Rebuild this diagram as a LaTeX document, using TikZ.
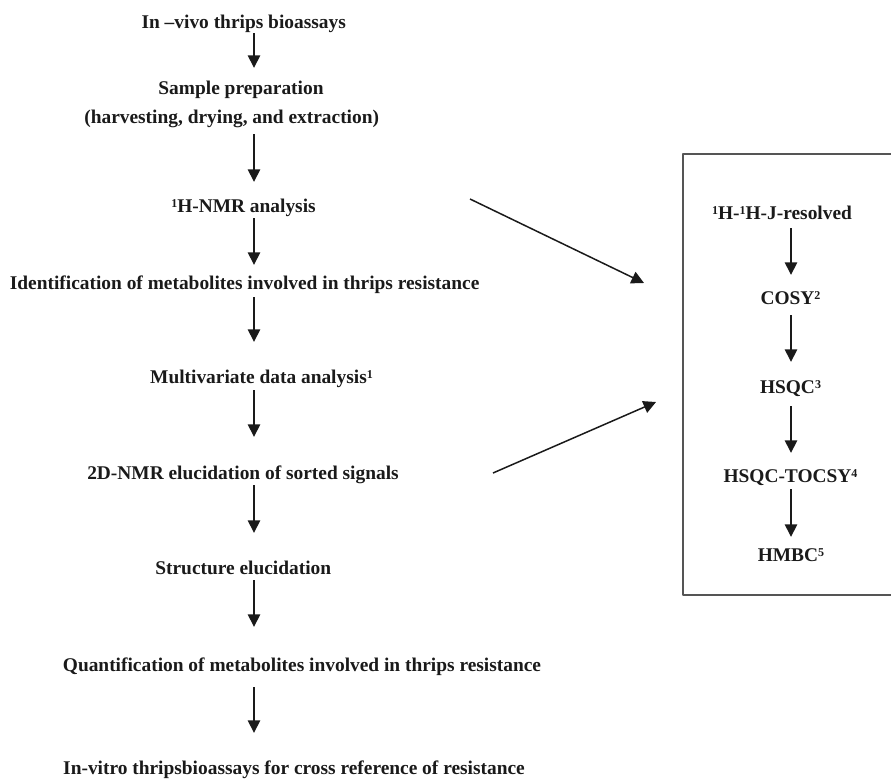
\documentclass[tikz,border=0pt]{standalone}
\usepackage{fontspec}
\setmainfont{Liberation Serif}
\usepackage{tikz}
\usetikzlibrary{arrows.meta}
\definecolor{ink}{HTML}{1A1A1A}
\definecolor{frame}{HTML}{555555}
\newcommand{\supnum}[1]{\raisebox{5pt}{\fontsize{12}{12}\selectfont #1}}
\tikzset{
  every picture/.style={line join=round, >={Triangle[length=12.5pt,width=12.5pt]}},
  step label/.style={anchor=base, inner sep=0pt, text height=13pt, text depth=4.5pt, text=ink,
    font=\fontsize{19.4}{23}\selectfont\bfseries},
  flow/.style={->, line width=1.5pt, ink},
}

\begin{document}
\begin{tikzpicture}[x=1pt,y=-1pt]
\useasboundingbox (0,0) rectangle (891,779);
\coordinate (mainaxis) at (254,0);
\coordinate (boxaxis) at (791,0);
% main column
\node[step label] (vivo) at (243.7,28.5) {In –vivo thrips bioassays};
\node[step label] (prep) at (241,94.5) {Sample preparation};
\node[step label] (prepdetail) at (231.7,123.5) {(harvesting, drying, and extraction)};
\node[step label] (nmr) at (243.5,212.5) {\supnum{1}H-NMR analysis};
\node[step label] (ident) at (244.6,289.5) {Identification of metabolites involved in thrips resistance};
\node[step label] (multi) at (261.5,383.5) {Multivariate data analysis\supnum{1}};
\node[step label] (twod) at (243,479.5) {2D-NMR elucidation of sorted signals};
\node[step label] (struct) at (243.3,574.5) {Structure elucidation};
\node[step label] (quant) at (302,671.5) {Quantification of metabolites involved in thrips resistance};
\node[step label] (vitro) at (294,774.5) {In-vitro thripsbioassays for cross reference of resistance};
\foreach \a/\b/\s/\e in {vivo/prep/0/13.5, prepdetail/nmr/6/17.5, nmr/ident/1/11.5,
    ident/multi/3/28.5, multi/twod/2/29.5, twod/struct/1/28.5, struct/quant/1/31.5, quant/vitro/11/28.5}
  \draw[flow, shorten <=\s pt, shorten >=\e pt] (\a.south -| mainaxis) -- (\b.north -| mainaxis);
% 2D-NMR experiments
\draw[frame, line width=1.6pt] (892,154) -- (683,154) -- (683,595) -- (892,595);
\node[step label] (jres) at (782,219.5) {\supnum{1}H-\supnum{1}H-J-resolved};
\node[step label] (cosy) at (790.5,304.5) {COSY\supnum{2}};
\node[step label] (hsqc) at (790.5,393.5) {HSQC\supnum{3}};
\node[step label] (tocsy) at (790.5,482.5) {HSQC-TOCSY\supnum{4}};
\node[step label] (hmbc) at (791,561.5) {HMBC\supnum{5}};
\foreach \a/\b/\s/\e in {jres/cosy/4/16.5, cosy/hsqc/6/18.5, hsqc/tocsy/8/16.5, tocsy/hmbc/2/11.5}
  \draw[flow, shorten <=\s pt, shorten >=\e pt] (\a.south -| boxaxis) -- (\b.north -| boxaxis);
% links into the box
\coordinate (nmrout) at (470,199);
\coordinate (boxin1) at (644,283);
\coordinate (twodout) at (493,473);
\coordinate (boxin2) at (656,402);
\draw[flow] (nmrout) -- (boxin1);
\draw[flow] (twodout) -- (boxin2);
\end{tikzpicture}
\end{document}
